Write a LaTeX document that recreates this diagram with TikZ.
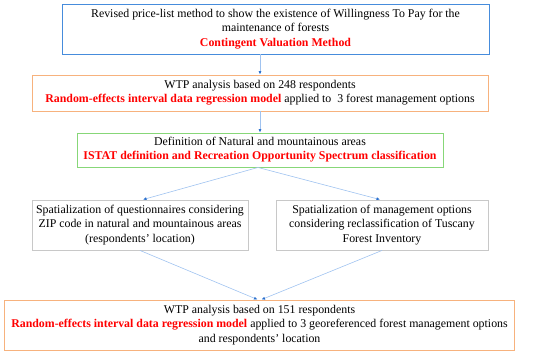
\documentclass[tikz,border=0pt]{standalone}
\usepackage{fontspec}
\setmainfont{Liberation Serif}
\usepackage{tikz}
\usetikzlibrary{arrows.meta}

\definecolor{boxblue}{RGB}{70,140,220}
\definecolor{boxorange}{RGB}{247,178,125}
\definecolor{boxgreen}{RGB}{135,215,120}
\definecolor{boxgray}{RGB}{200,200,200}
\definecolor{linkblue}{RGB}{160,195,240}
\definecolor{tipblue}{RGB}{40,110,205}
\definecolor{hired}{RGB}{255,0,0}

\newcommand{\hl}[1]{\textcolor{hired}{\textbf{#1}}}

\begin{document}
\begin{tikzpicture}[x=1bp, y=-1bp, font=\fontsize{11.9}{14.2}\selectfont,
    box/.style = {draw, line width=0.9bp, align=center, inner sep=0pt},
    link/.style = {linkblue, line width=0.6bp, -{Latex[length=3.5bp,width=3bp,color=tipblue]}}]
            \useasboundingbox (0,0) rectangle (550,359);

            \node[box, draw=boxblue, minimum width=427bp, minimum height=50bp] (CVM) at (275.5,29)
                {Revised price-list method to show the existence of Willingness To Pay for the\\
                 maintenance of forests\\ \hl{Contingent Valuation Method}};
            \node[box, draw=boxorange, minimum width=456bp, minimum height=36bp] (WTPa) at (260,93)
                {WTP analysis based on 248 respondents\\
                 \hl{Random-effects interval data regression model} applied to \ 3 forest management options};
            \node[box, draw=boxgreen, minimum width=366bp, minimum height=34bp] (AREA) at (260,150)
                {Definition of Natural and mountainous areas\\
                 \hl{ISTAT definition and Recreation Opportunity Spectrum classification}};
            \node[box, draw=boxgray, minimum width=216bp, minimum height=50bp] (ZIP) at (140,225)
                {Spatialization of questionnaires considering\\
                 ZIP code in natural and mountainous areas\\ (respondents’ location)};
            \node[box, draw=boxgray, minimum width=212bp, minimum height=50bp] (OPT) at (382,225)
                {Spatialization of management options\\
                 considering reclassification of Tuscany\\ Forest Inventory};
            \node[box, draw=boxorange, minimum width=510bp, minimum height=50bp] (WTPb) at (259.5,325)
                {WTP analysis based on 151 respondents\\
                 \hl{Random-effects interval data regression model} applied to 3 georeferenced forest management options\\
                 and respondents’ location};

            % links
            \draw[link] (WTPa.north |- CVM.south) -- (WTPa.north);
            \draw[link] (WTPa.south) -- (AREA.north);
            \draw[link] ([xshift=-2bp]AREA.south) -- ([xshift=3bp]ZIP.north);
            \draw[link] ([xshift=-2bp]AREA.south) -- ([xshift=-2bp]OPT.north);
            \draw[link] (ZIP.south) -- ([xshift=-2bp]WTPb.north);
            \draw[link] (OPT.south) -- ([xshift=2bp]WTPb.north);
        \end{tikzpicture}
\end{document}
